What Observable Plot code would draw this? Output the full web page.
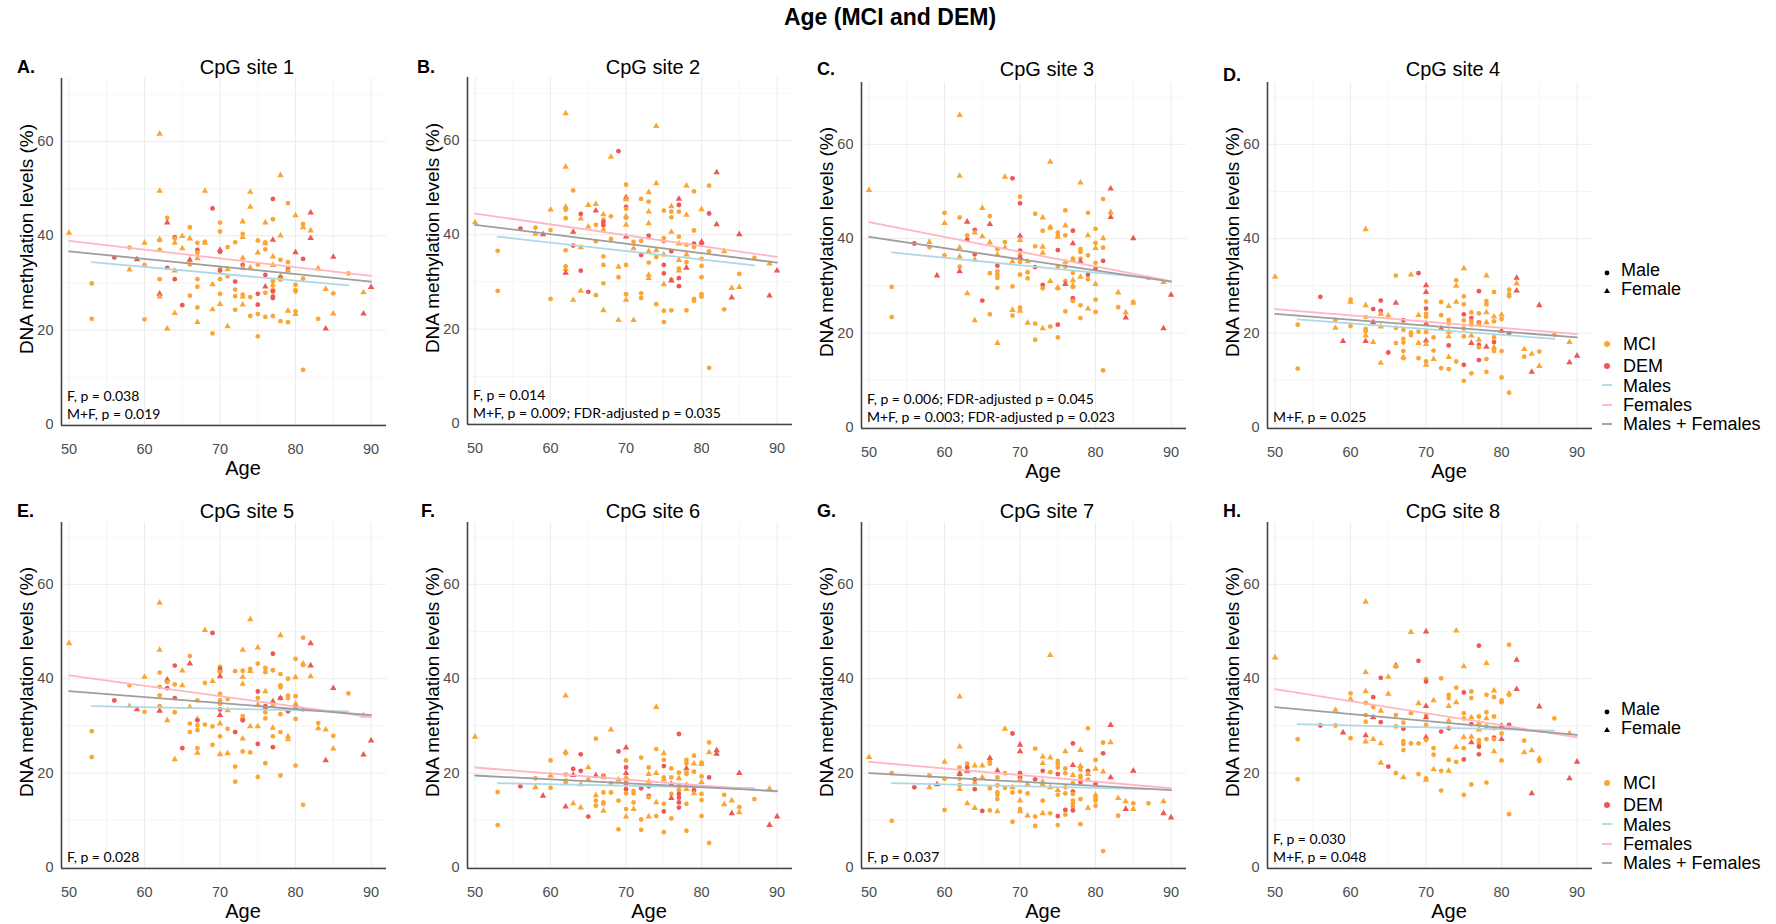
<!DOCTYPE html>
<html><head><meta charset="utf-8">
<script src="https://cdn.jsdelivr.net/npm/d3@7"></script>
<script src="https://cdn.jsdelivr.net/npm/@observablehq/plot@0.6"></script>
<style>
html,body{margin:0;padding:0;background:#fff;}
#root{position:relative;width:1776px;height:924px;overflow:hidden;font-family:"Liberation Sans",Arial,Helvetica,sans-serif;color:#000;background:#fff;}
.t{position:absolute;white-space:nowrap;line-height:1;}
</style></head><body><div id="root"></div>
<script>
// ---------- DATA ----------
// point tuples: [age, methylation %, code]; code = sex (M/F) + group (M = MCI, D = DEM)
const site1 = [[50,40.6,"FM"],[53,29.9,"MM"],[53,22.4,"MM"],[56,35.4,"MD"],[58,37.5,"MM"],[58,32.8,"FM"],[59,35.0,"FD"],[60,38.5,"FM"],[60,33.8,"MM"],[60,22.3,"MM"],
[62,61.6,"FM"],[62,49.5,"FM"],[62,39.2,"FM"],[62,39.1,"MM"],[62,37.0,"MM"],[62,30.8,"MM"],[62,27.7,"FD"],[62,27.1,"FM"],
[63,43.8,"MM"],[63,42.8,"FD"],[63,33.2,"MD"],[63,20.3,"FM"],[64,39.7,"MD"],[64,39.4,"MM"],[64,38.5,"FM"],[64,32.6,"FM"],[64,30.8,"MD"],[64,23.6,"FM"],
[65,39.9,"FM"],[65,37.3,"FM"],[65,25.3,"MD"],[66,41.8,"MM"],[66,39.4,"FM"],[66,34.9,"FD"],[66,33.9,"MM"],[66,27.3,"MM"],
[67,38.5,"MM"],[67,37.0,"MD"],[67,36.4,"MM"],[67,35.2,"FM"],[67,30.8,"MM"],[67,29.2,"MM"],[67,24.8,"MM"],[67,21.7,"FM"],
[68,49.5,"FM"],[68,38.7,"MM"],[68,38.5,"FM"],[69,45.8,"MD"],[69,29.7,"FM"],[69,24.4,"FM"],[69,19.3,"MM"],
[70,42.8,"MM"],[70,40.9,"MM"],[70,37.0,"FD"],[70,36.6,"MD"],[70,33.0,"MM"],[70,32.6,"MD"],[70,30.8,"MM"],[70,27.7,"MM"],[70,25.5,"FM"],
[71,37.6,"MM"],[71,32.9,"FM"],[71,31.4,"MM"],[71,20.8,"FM"],[72,38.6,"MM"],[72,30.3,"MD"],[72,28.6,"MM"],[72,27.2,"MM"],[72,24.3,"MM"],
[73,43.0,"FM"],[73,40.4,"MM"],[73,39.7,"FM"],[73,35.3,"FM"],[73,33.8,"MD"],[73,33.2,"FM"],[73,27.5,"MM"],[73,27.1,"FM"],[73,25.4,"FM"],
[74,49.3,"FM"],[74,46.1,"FM"],[74,33.2,"FM"],[74,27.0,"MM"],[74,23.0,"MM"],
[75,39.0,"MM"],[75,36.4,"FM"],[75,33.9,"MM"],[75,27.7,"MD"],[75,25.4,"MD"],[75,23.4,"MM"],[75,18.7,"MM"],
[76,42.8,"FM"],[76,38.6,"MM"],[76,38.4,"FM"],[76,37.1,"MM"],[76,31.7,"MD"],[76,29.2,"FD"],[76,27.9,"MM"],[76,22.8,"MM"],
[77,47.8,"MD"],[77,43.5,"MM"],[77,39.1,"FD"],[77,35.6,"FM"],[77,33.8,"FM"],[77,30.4,"MM"],[77,29.6,"FM"],[77,28.7,"FM"],[77,28.2,"MD"],[77,27.1,"MD"],[77,26.8,"MD"],[77,23.0,"MM"],
[78,52.8,"FM"],[78,40.0,"FM"],[78,34.9,"MM"],[78,31.5,"FM"],[78,31.1,"MD"],[78,30.7,"MM"],[78,21.9,"MM"],
[79,46.9,"MM"],[79,34.4,"MM"],[79,33.0,"MD"],[79,32.6,"FM"],[79,24.1,"FM"],[79,21.7,"MM"],
[80,44.3,"FM"],[80,36.5,"FD"],[80,29.6,"MM"],[80,28.5,"MM"],[80,28.2,"MM"],[80,24.0,"MM"],[80,23.4,"FM"],
[81,42.5,"MM"],[81,41.8,"FM"],[81,35.1,"MD"],[81,30.9,"MM"],[81,11.6,"MM"],[82,44.9,"FD"],[82,41.1,"FM"],[82,39.5,"FD"],
[83,33.1,"FM"],[83,22.4,"MM"],[84,28.7,"FM"],[84,20.3,"FD"],[85,35.5,"FD"],[85,27.8,"MM"],[85,23.5,"FM"],[87,32.0,"MM"],[89,28.0,"FM"],[89,23.5,"FD"],[90,29.1,"FD"]];

const site2 = [[50,42.6,"FM"],[53,36.6,"MM"],[53,28.1,"MM"],[56,41.3,"MD"],[58,41.5,"MM"],[58,40.2,"FM"],[59,40.1,"FD"],[60,45.3,"FM"],[60,41.0,"MM"],[60,26.4,"MM"],
[62,65.7,"FM"],[62,54.4,"FM"],[62,45.9,"FM"],[62,45.3,"MM"],[62,43.5,"MM"],[62,36.7,"MM"],[62,33.3,"MM"],[62,32.7,"FM"],[62,31.9,"FD"],
[63,49.4,"MM"],[63,40.6,"FD"],[63,37.7,"MD"],[63,26.2,"FM"],[64,44.4,"MD"],[64,43.4,"FM"],[64,37.3,"FM"],[64,32.4,"MD"],[64,28.1,"FM"],
[65,46.3,"FM"],[65,41.7,"FM"],[65,27.9,"MD"],[66,46.5,"FM"],[66,45.1,"FD"],[66,42.1,"MM"],[66,38.6,"MM"],[66,27.2,"MM"],
[67,44.3,"FM"],[67,43.2,"MM"],[67,42.7,"MD"],[67,42.0,"MD"],[67,41.0,"MM"],[67,35.4,"MM"],[67,33.6,"MM"],[67,29.7,"MM"],[67,24.0,"FM"],
[68,56.5,"FM"],[68,43.9,"MM"],[68,39.1,"MM"],[69,57.7,"MD"],[69,33.2,"FM"],[69,31.0,"MM"],[69,21.9,"FM"],
[70,50.6,"MM"],[70,47.9,"FD"],[70,47.5,"FM"],[70,45.9,"MD"],[70,45.5,"MM"],[70,43.9,"FM"],[70,43.6,"MM"],[70,42.1,"FM"],[70,39.6,"FD"],[70,33.6,"MM"],[70,27.4,"MM"],[70,26.2,"FM"],
[71,38.5,"MM"],[71,37.1,"FM"],[71,21.9,"FM"],[72,47.6,"MM"],[72,38.7,"MM"],[72,35.7,"MD"],[72,27.6,"MM"],[72,26.6,"MM"],
[73,49.0,"FM"],[73,47.0,"MM"],[73,44.9,"FM"],[73,42.4,"FM"],[73,39.8,"MD"],[73,36.5,"FM"],[73,34.1,"MM"],[73,31.5,"FM"],[73,30.8,"FM"],
[74,63.0,"FM"],[74,50.9,"FM"],[74,36.7,"FM"],[74,35.3,"MM"],[74,25.3,"MM"],
[75,45.1,"MM"],[75,39.3,"MM"],[75,38.6,"MM"],[75,35.8,"FM"],[75,33.6,"MD"],[75,31.8,"MD"],[75,29.5,"FM"],[75,23.9,"MM"],[75,21.5,"MM"],
[76,46.0,"FM"],[76,44.9,"MM"],[76,43.7,"MM"],[76,40.6,"FM"],[76,36.5,"MD"],[76,30.5,"MM"],[76,30.3,"FD"],[76,24.0,"MM"],
[77,47.6,"FD"],[77,46.3,"MD"],[77,44.9,"MM"],[77,39.6,"MM"],[77,38.1,"FM"],[77,34.6,"FM"],[77,32.8,"MM"],[77,32.4,"FM"],[77,30.8,"MD"],[77,29.1,"MD"],
[78,50.4,"FM"],[78,44.2,"FM"],[78,37.9,"MM"],[78,35.8,"FM"],[78,34.2,"MM"],[78,33.0,"FD"],[78,24.0,"MM"],
[79,49.2,"MM"],[79,40.9,"MM"],[79,38.1,"MD"],[79,37.4,"MM"],[79,26.4,"MM"],[79,26.0,"MM"],
[80,45.4,"FM"],[80,38.5,"FD"],[80,38.2,"MD"],[80,34.9,"MM"],[80,33.4,"MM"],[80,31.0,"MM"],[80,27.4,"MM"],[80,26.9,"MM"],
[81,50.4,"MM"],[81,44.5,"MD"],[81,36.5,"MM"],[81,11.8,"MM"],[82,53.2,"FD"],[82,42.2,"FD"],[83,36.5,"FM"],[83,24.2,"MM"],
[84,28.7,"FM"],[84,26.7,"FD"],[85,40.1,"FD"],[85,31.7,"MM"],[85,28.9,"FM"],[87,35.1,"MM"],[89,33.9,"FM"],[89,27.1,"FD"],[90,32.4,"FD"]];

const site3 = [[50,50.3,"FM"],[53,29.8,"MM"],[53,23.4,"MM"],[56,39.0,"MD"],[58,39.3,"FM"],[58,38.2,"MM"],[59,32.2,"FD"],[60,45.5,"MM"],[60,43.3,"FM"],[60,36.5,"MM"],
[62,66.2,"FM"],[62,53.3,"FM"],[62,44.5,"MM"],[62,38.1,"FM"],[62,36.2,"FM"],[62,34.1,"MM"],[62,33.1,"FD"],
[63,43.6,"FD"],[63,40.7,"MM"],[63,39.8,"MD"],[63,28.4,"FM"],[64,41.9,"MD"],[64,41.3,"FM"],[64,36.7,"MD"],[64,35.6,"FM"],[64,22.7,"FM"],
[65,46.5,"FM"],[65,40.5,"FM"],[65,26.9,"MD"],[66,44.8,"MM"],[66,43.1,"FD"],[66,39.2,"FM"],[66,32.7,"MM"],[66,24.0,"MM"],
[67,37.8,"MM"],[67,36.6,"FM"],[67,34.3,"MD"],[67,33.1,"MM"],[67,32.4,"MM"],[67,31.7,"MM"],[67,29.6,"MM"],[67,17.9,"FM"],
[68,53.1,"FM"],[68,39.3,"MM"],[68,38.1,"FM"],[69,52.8,"MD"],[69,35.2,"FM"],[69,29.9,"MM"],[69,24.9,"FM"],[69,23.7,"MM"],
[70,48.9,"MM"],[70,47.5,"MD"],[70,40.6,"FD"],[70,39.7,"FM"],[70,37.5,"MD"],[70,36.5,"MM"],[70,36.1,"FD"],[70,35.1,"MM"],[70,32.4,"MM"],[70,25.4,"MM"],[70,24.7,"FM"],
[71,35.2,"FM"],[71,32.9,"MM"],[71,31.6,"MM"],[71,22.2,"FM"],[72,45.3,"MM"],[72,38.4,"MM"],[72,34.0,"MD"],[72,22.0,"MM"],[72,18.6,"MM"],
[73,44.5,"FM"],[73,41.7,"MM"],[73,38.3,"FM"],[73,37.0,"FM"],[73,30.2,"MD"],[73,29.5,"MM"],[73,21.0,"FM"],
[74,56.3,"FM"],[74,42.5,"FM"],[74,42.3,"MM"],[74,31.0,"FM"],[74,21.4,"MM"],
[75,41.3,"MM"],[75,40.7,"MM"],[75,40.4,"FM"],[75,37.6,"MD"],[75,34.1,"MM"],[75,29.7,"FM"],[75,29.5,"MM"],[75,21.8,"MD"],[75,19.1,"MM"],
[76,46.0,"MM"],[76,42.8,"FM"],[76,40.7,"MM"],[76,35.1,"FM"],[76,34.1,"MM"],[76,31.0,"MM"],[76,30.4,"FD"],[76,24.6,"MM"],
[77,41.7,"MD"],[77,39.0,"FD"],[77,35.8,"MM"],[77,35.5,"FM"],[77,32.8,"MM"],[77,31.2,"FM"],[77,30.1,"FM"],[77,29.8,"MM"],[77,27.4,"MD"],[77,27.1,"MD"],[77,26.8,"MM"],
[78,51.9,"FM"],[78,37.8,"MM"],[78,37.2,"MM"],[78,35.8,"MM"],[78,35.2,"FD"],[78,31.9,"FM"],[78,25.9,"MM"],[78,23.2,"MM"],
[79,45.5,"MM"],[79,40.7,"FM"],[79,36.5,"MM"],[79,32.4,"MD"],[79,31.4,"MM"],[79,25.2,"FM"],
[80,42.1,"MM"],[80,39.1,"MM"],[80,38.0,"FM"],[80,34.9,"MM"],[80,33.6,"MD"],[80,30.4,"FM"],[80,27.1,"MM"],[80,24.5,"MM"],
[81,48.4,"MM"],[81,40.1,"FM"],[81,38.1,"MM"],[81,35.3,"MD"],[81,12.1,"MM"],[82,50.6,"FD"],[82,45.6,"FM"],[82,44.6,"FD"],
[83,28.6,"FM"],[83,25.5,"MM"],[84,24.4,"FM"],[84,23.3,"FD"],[85,40.1,"FD"],[85,26.6,"MM"],[85,26.4,"FM"],[87,31.7,"MM"],[89,30.8,"FM"],[89,21.0,"FD"],[90,28.1,"FD"]];

const site4 = [[50,31.9,"FM"],[53,21.8,"MM"],[53,12.5,"MM"],[56,27.7,"MD"],[58,22.8,"MM"],[58,21.1,"FM"],[59,18.3,"FD"],[60,27.1,"MM"],[60,26.6,"FM"],[60,21.5,"MM"],
[62,42.0,"FM"],[62,25.9,"FM"],[62,23.4,"MM"],[62,20.9,"MM"],[62,20.4,"MM"],[62,19.5,"FM"],[62,18.3,"FD"],
[63,25.1,"MD"],[63,22.3,"FD"],[63,18.1,"FM"],[64,26.9,"MD"],[64,24.7,"MD"],[64,24.1,"FM"],[64,21.4,"FM"],[64,13.7,"FM"],
[65,23.7,"FM"],[65,15.9,"MD"],[66,32.2,"MM"],[66,26.4,"FD"],[66,21.1,"MM"],[66,17.9,"MM"],
[67,22.7,"MD"],[67,20.7,"MM"],[67,18.8,"MM"],[67,18.0,"MM"],[67,16.2,"MM"],[67,14.9,"FM"],[67,14.7,"MM"],
[68,32.4,"FM"],[68,20.1,"MM"],[68,19.6,"MM"],[69,32.7,"MD"],[69,23.8,"FM"],[69,20.3,"MM"],[69,17.9,"FM"],[69,14.7,"MM"],
[70,30.1,"FD"],[70,28.7,"FD"],[70,26.7,"MM"],[70,25.2,"MD"],[70,24.1,"MM"],[70,23.5,"MM"],[70,22.0,"FD"],[70,20.2,"MM"],[70,18.4,"FD"],[70,17.7,"FM"],[70,14.0,"MM"],[70,13.3,"FM"],
[71,19.1,"MM"],[71,16.3,"MM"],[71,14.5,"FM"],[72,26.6,"MM"],[72,23.8,"MM"],[72,21.0,"FD"],[72,12.6,"MM"],
[73,25.7,"FM"],[73,22.8,"MM"],[73,22.1,"MM"],[73,20.3,"FM"],[73,19.3,"FM"],[73,17.4,"MD"],[73,14.9,"FM"],[73,12.4,"MM"],
[74,31.2,"MM"],[74,30.0,"FM"],[74,26.6,"FM"],[74,14.0,"MM"],
[75,33.7,"FM"],[75,27.8,"MM"],[75,26.1,"MM"],[75,24.0,"MD"],[75,22.7,"MM"],[75,21.0,"MM"],[75,19.3,"MM"],[75,13.3,"MD"],[75,9.9,"MM"],
[76,24.4,"MM"],[76,23.2,"MD"],[76,22.5,"MM"],[76,21.8,"MM"],[76,19.5,"FM"],[76,17.9,"FD"],[76,11.5,"MM"],
[77,28.9,"MD"],[77,24.2,"MM"],[77,22.3,"MD"],[77,22.0,"FM"],[77,18.6,"FM"],[77,17.5,"MD"],[77,17.0,"MM"],[77,14.3,"MD"],
[78,32.2,"FM"],[78,26.8,"MM"],[78,26.1,"MM"],[78,24.4,"FM"],[78,22.3,"FM"],[78,17.1,"FD"],[78,14.5,"MM"],[78,11.8,"MM"],
[79,28.7,"MM"],[79,23.5,"FM"],[79,22.5,"MM"],[79,19.1,"MM"],[79,18.1,"MD"],[79,17.0,"FM"],[79,16.2,"MM"],
[80,23.9,"FM"],[80,23.0,"MM"],[80,20.5,"FD"],[80,16.2,"MM"],[80,10.6,"MM"],
[81,29.2,"MM"],[81,28.2,"MM"],[81,27.8,"MM"],[81,20.0,"MD"],[81,7.4,"MM"],[82,31.7,"FD"],[82,30.5,"FM"],[82,29.0,"FD"],
[83,16.6,"FM"],[83,15.0,"MM"],[84,15.6,"FM"],[84,11.8,"FD"],[85,25.9,"FD"],[85,16.1,"MM"],[85,13.0,"FM"],[87,19.7,"MM"],[89,18.1,"FM"],[89,13.8,"FD"],[90,15.2,"FD"]];

const site5 = [[50,47.5,"FM"],[53,28.9,"MM"],[53,23.4,"MM"],[56,35.4,"MD"],[58,38.6,"MM"],[58,34.2,"FM"],[59,33.5,"FD"],[60,40.4,"FM"],[60,33.0,"MM"],
[62,56.1,"FM"],[62,46.1,"FM"],[62,41.3,"MM"],[62,38.3,"MM"],[62,36.5,"MM"],[62,34.2,"MM"],[62,33.2,"FD"],
[63,39.8,"FD"],[63,39.3,"MM"],[63,38.0,"MD"],[63,31.2,"FM"],[64,42.8,"MD"],[64,38.8,"MM"],[64,35.9,"MD"],[64,32.9,"MM"],[64,22.9,"FM"],
[65,41.7,"FM"],[65,38.6,"FM"],[65,25.3,"MD"],[66,44.8,"MM"],[66,43.2,"FD"],[66,34.0,"FM"],[66,30.5,"MM"],[66,28.7,"MM"],
[67,35.4,"MM"],[67,31.5,"FM"],[67,31.2,"MD"],[67,30.1,"MM"],[67,29.1,"MM"],[67,25.3,"MM"],[67,24.3,"FM"],
[68,50.3,"FM"],[68,39.1,"MM"],[68,30.3,"MM"],[69,49.7,"MD"],[69,39.5,"FM"],[69,29.9,"MM"],[69,26.0,"MM"],
[70,42.5,"MM"],[70,42.1,"MD"],[70,41.6,"MD"],[70,41.4,"MM"],[70,40.5,"FD"],[70,36.8,"MM"],[70,35.4,"MM"],[70,34.7,"MM"],[70,33.5,"MD"],[70,32.3,"FD"],[70,30.5,"FM"],[70,27.8,"MM"],[70,24.0,"FM"],
[71,35.7,"MM"],[71,33.3,"FM"],[71,29.4,"MM"],[71,24.2,"FM"],[72,41.6,"MM"],[72,28.7,"MD"],[72,21.4,"MM"],[72,18.2,"MM"],
[73,46.1,"FM"],[73,41.7,"MM"],[73,40.4,"FM"],[73,38.9,"FM"],[73,32.1,"MM"],[73,31.7,"FM"],[73,31.2,"MD"],[73,27.3,"FM"],[73,24.6,"MM"],
[74,52.6,"FM"],[74,42.1,"MM"],[74,41.6,"FM"],[74,29.9,"FM"],[74,24.4,"MM"],
[75,46.6,"FM"],[75,43.2,"MM"],[75,37.3,"MD"],[75,35.9,"MM"],[75,34.5,"FM"],[75,29.9,"FM"],[75,26.2,"MD"],[75,19.2,"MM"],
[76,42.3,"MM"],[76,41.4,"MM"],[76,37.3,"FM"],[76,34.2,"MD"],[76,33.8,"FD"],[76,32.9,"MM"],[76,31.6,"MM"],[76,22.1,"MM"],
[77,45.3,"MD"],[77,41.8,"MM"],[77,35.2,"FD"],[77,34.4,"FM"],[77,29.6,"FM"],[77,27.8,"MM"],[77,25.5,"MD"],
[78,49.2,"FM"],[78,41.0,"MM"],[78,38.6,"MM"],[78,38.2,"MM"],[78,35.9,"MD"],[78,35.9,"FD"],[78,32.5,"MM"],[78,28.7,"MM"],[78,19.5,"MM"],
[79,40.0,"MM"],[79,36.4,"MM"],[79,35.9,"MM"],[79,33.1,"MD"],[79,27.8,"FM"],[79,27.2,"FM"],
[80,44.2,"MM"],[80,40.3,"FM"],[80,36.3,"MM"],[80,34.7,"FM"],[80,34.0,"MD"],[80,31.5,"MM"],[80,21.6,"MM"],
[81,48.7,"MM"],[81,43.2,"FM"],[81,42.9,"MM"],[81,33.5,"MM"],[81,13.3,"MM"],[82,47.5,"FD"],[82,42.8,"FD"],[82,40.5,"FM"],
[83,30.6,"MM"],[83,29.5,"FM"],[84,29.2,"FM"],[84,22.7,"FD"],[85,38.0,"FD"],[85,27.9,"MM"],[85,25.2,"FM"],[87,36.9,"MM"],[89,32.2,"FM"],[89,23.9,"FD"],[90,26.9,"FD"]];

const site6 = [[50,27.7,"FM"],[53,16.0,"MM"],[53,9.0,"MM"],[56,17.2,"MD"],[58,18.9,"MM"],[58,17.0,"FM"],[59,15.2,"FD"],[60,22.7,"MM"],[60,19.5,"FM"],[60,16.9,"MM"],
[62,36.4,"FM"],[62,24.5,"FM"],[62,24.2,"MM"],[62,19.7,"MM"],[62,18.4,"MM"],[62,17.9,"MM"],[62,12.9,"FD"],
[63,20.9,"MD"],[63,19.6,"FD"],[63,13.6,"FM"],[64,24.0,"MD"],[64,20.5,"MD"],[64,17.6,"FM"],[64,12.7,"FM"],
[65,21.2,"FM"],[65,18.7,"FM"],[65,10.8,"MD"],[66,27.3,"MM"],[66,19.5,"FD"],[66,15.3,"FM"],[66,14.2,"MM"],[66,13.1,"MM"],
[67,19.4,"MD"],[67,19.1,"FM"],[67,15.9,"MM"],[67,13.8,"MM"],[67,13.5,"MM"],[67,12.0,"FM"],
[68,29.2,"FM"],[68,17.9,"MM"],[68,15.9,"MM"],[69,24.6,"MD"],[69,18.6,"FM"],[69,14.2,"MM"],[69,8.1,"MM"],
[70,25.4,"FD"],[70,22.7,"MM"],[70,21.2,"MD"],[70,20.0,"FD"],[70,19.1,"FM"],[70,18.4,"MM"],[70,17.7,"MD"],[70,16.6,"MD"],[70,15.7,"MM"],[70,12.4,"MM"],[70,10.8,"FM"],
[71,16.2,"MM"],[71,15.7,"MM"],[71,13.8,"MM"],[71,12.4,"FM"],[72,23.3,"MM"],[72,16.8,"MD"],[72,10.2,"MM"],[72,8.0,"MM"],
[73,21.2,"MM"],[73,19.8,"FM"],[73,18.2,"FM"],[73,17.2,"MD"],[73,15.2,"MD"],[73,14.9,"MM"],[73,10.8,"FM"],
[74,34.0,"FM"],[74,25.1,"MM"],[74,20.0,"FM"],[74,13.8,"FM"],[74,10.9,"MM"],
[75,24.2,"FM"],[75,22.8,"MM"],[75,21.5,"MD"],[75,19.1,"MM"],[75,18.7,"FM"],[75,13.5,"MM"],[75,11.9,"MD"],[75,7.5,"MM"],
[76,21.0,"MM"],[76,19.1,"MM"],[76,17.7,"FD"],[76,15.6,"MM"],[76,14.7,"FD"],[76,10.4,"MM"],
[77,28.3,"MD"],[77,20.1,"MM"],[77,18.9,"FM"],[77,17.2,"MD"],[77,16.4,"MM"],[77,15.6,"MD"],[77,14.8,"MD"],[77,13.8,"MD"],[77,12.7,"MD"],
[78,22.8,"MM"],[78,22.1,"MM"],[78,21.0,"FD"],[78,20.1,"MM"],[78,19.8,"MM"],[78,17.5,"FM"],[78,16.6,"FM"],[78,13.5,"MM"],[78,7.8,"MM"],
[79,23.7,"MM"],[79,22.0,"FM"],[79,20.3,"MM"],[79,17.2,"MM"],[79,16.4,"MD"],[79,15.7,"FM"],
[80,22.2,"MM"],[80,21.9,"FM"],[80,19.3,"MM"],[80,18.1,"FM"],[80,15.6,"MM"],[80,14.3,"MM"],[80,10.9,"MM"],
[81,26.5,"MM"],[81,24.4,"FM"],[81,19.1,"MD"],[81,5.2,"MM"],[82,24.8,"FD"],[82,24.1,"FD"],
[83,15.4,"MM"],[83,13.4,"FM"],[84,14.2,"FM"],[84,11.5,"FD"],[85,20.0,"FD"],[85,12.8,"MM"],[85,11.7,"FM"],[87,14.5,"MM"],[89,16.7,"FM"],[89,9.0,"FD"],[90,10.8,"FD"]];

const site7 = [[50,23.4,"FM"],[53,20.0,"MM"],[53,9.9,"MM"],[56,17.0,"MD"],[58,19.5,"MM"],[58,17.0,"FM"],[59,17.6,"FD"],[60,22.4,"FM"],[60,18.8,"MM"],[60,12.2,"MM"],
[62,36.2,"FM"],[62,25.6,"FM"],[62,21.2,"MM"],[62,20.0,"MM"],[62,19.8,"FD"],[62,18.8,"MM"],[62,17.5,"MM"],[62,16.6,"FM"],
[63,22.0,"MM"],[63,21.2,"MD"],[63,20.5,"FD"],[63,13.6,"FM"],[64,21.6,"FM"],[64,18.7,"MD"],[64,17.9,"MM"],[64,16.6,"MD"],[64,12.6,"FM"],
[65,21.6,"FM"],[65,19.1,"FM"],[65,12.0,"MD"],[66,23.2,"FD"],[66,22.4,"MM"],[66,22.0,"MM"],[66,16.8,"MM"],[66,12.1,"MM"],
[67,20.5,"FD"],[67,19.1,"MM"],[67,17.4,"MM"],[67,15.9,"MM"],[67,15.4,"MM"],[67,14.5,"MM"],[67,11.9,"FM"],
[68,29.4,"FM"],[68,20.0,"MM"],[68,16.9,"MM"],[69,28.4,"MD"],[69,17.0,"FM"],[69,15.9,"MM"],[69,9.7,"MM"],
[70,26.0,"FD"],[70,24.6,"FD"],[70,20.0,"MD"],[70,19.1,"MD"],[70,18.6,"FM"],[70,16.1,"MM"],[70,14.2,"FM"],[70,12.4,"MM"],[70,11.9,"FM"],
[71,17.7,"FM"],[71,15.7,"MM"],[71,11.0,"FM"],[72,25.2,"MM"],[72,18.7,"MD"],[72,10.8,"MM"],[72,8.8,"MM"],
[73,23.5,"FM"],[73,22.1,"FM"],[73,20.5,"MD"],[73,18.2,"FM"],[73,17.7,"FM"],[73,14.2,"MM"],[73,11.5,"FM"],
[74,45.0,"FM"],[74,23.3,"FM"],[74,20.2,"MM"],[74,17.0,"FM"],[74,11.5,"MM"],
[75,22.6,"MM"],[75,22.0,"MM"],[75,21.2,"MM"],[75,19.8,"MD"],[75,16.4,"FM"],[75,15.4,"MM"],[75,10.9,"MD"],[75,9.0,"MM"],
[76,24.6,"FM"],[76,21.0,"MM"],[76,20.0,"MM"],[76,17.0,"MM"],[76,15.7,"MM"],[76,12.2,"MD"],[76,11.2,"MM"],
[77,26.3,"MD"],[77,21.7,"FD"],[77,19.6,"FM"],[77,17.9,"MM"],[77,16.1,"MD"],[77,15.6,"MM"],[77,14.2,"MM"],[77,13.5,"MM"],[77,12.9,"MM"],[77,12.1,"MD"],
[78,24.9,"FM"],[78,21.5,"FM"],[78,20.7,"MM"],[78,19.4,"MM"],[78,19.1,"MM"],[78,18.1,"MD"],[78,14.5,"MM"],[78,9.2,"MM"],
[79,29.5,"MM"],[79,20.5,"MD"],[79,19.8,"FM"],[79,18.6,"MM"],[79,12.6,"FM"],
[80,22.8,"MM"],[80,20.9,"FM"],[80,17.7,"MD"],[80,15.4,"FM"],[80,14.7,"MM"],[80,14.2,"MM"],[80,13.1,"MM"],
[81,26.5,"MM"],[81,24.2,"MD"],[81,20.3,"FM"],[81,3.5,"MM"],[82,30.2,"FD"],[82,26.5,"FM"],[82,19.1,"FD"],
[83,14.7,"FM"],[83,11.0,"MM"],[84,14.0,"FM"],[84,12.4,"FD"],[85,20.5,"FD"],[85,13.6,"MM"],[85,12.4,"FM"],[87,13.6,"MM"],[89,14.0,"FM"],[89,11.5,"FD"],[90,10.6,"FD"]];

const site8 = [[50,44.5,"FM"],[53,27.2,"MM"],[53,18.7,"MM"],[56,30.1,"MD"],[58,33.4,"FM"],[58,30.1,"MM"],[59,28.6,"FD"],[60,36.9,"MM"],[60,35.7,"FM"],[60,27.4,"MM"],
[62,56.3,"FM"],[62,41.4,"FM"],[62,37.3,"FM"],[62,34.9,"MM"],[62,32.3,"MM"],[62,30.9,"MM"],[62,28.0,"FD"],[62,26.7,"FM"],
[63,36.1,"MD"],[63,34.0,"MM"],[63,31.8,"FD"],[63,27.2,"FM"],[64,40.2,"MD"],[64,33.2,"FM"],[64,30.8,"MD"],[64,26.3,"FM"],[64,22.2,"FM"],
[65,40.4,"FM"],[65,36.8,"FM"],[65,21.4,"MD"],[66,42.8,"FD"],[66,42.6,"MM"],[66,32.3,"MM"],[66,29.9,"MM"],[66,20.0,"MM"],
[67,30.7,"MM"],[67,29.4,"MD"],[67,26.8,"MM"],[67,26.2,"MM"],[67,24.9,"MM"],[67,19.1,"FM"],
[68,49.9,"FM"],[68,32.7,"MM"],[68,26.3,"MM"],[69,43.8,"MD"],[69,34.8,"FM"],[69,26.3,"MM"],[69,19.8,"MM"],
[70,50.0,"FD"],[70,39.9,"MM"],[70,39.4,"MD"],[70,34.2,"FD"],[70,32.3,"MM"],[70,31.8,"FD"],[70,30.2,"MM"],[70,27.6,"FD"],[70,27.0,"MM"],[70,18.9,"MM"],[70,18.6,"FM"],
[71,35.4,"FM"],[71,25.3,"MM"],[71,23.9,"MM"],[71,20.8,"FM"],[72,40.1,"MM"],[72,28.8,"MD"],[72,20.5,"MM"],[72,16.3,"MM"],
[73,36.6,"MM"],[73,35.9,"MM"],[73,34.2,"FM"],[73,31.1,"FM"],[73,29.5,"MD"],[73,22.8,"MM"],[73,20.5,"FM"],
[74,50.2,"FM"],[74,38.1,"MM"],[74,35.0,"FM"],[74,25.5,"FM"],[74,22.4,"MM"],
[75,42.6,"FM"],[75,37.1,"MD"],[75,32.7,"MM"],[75,31.6,"MM"],[75,27.6,"FM"],[75,25.3,"MM"],[75,22.9,"MD"],[75,15.4,"MM"],
[76,37.3,"MM"],[76,35.9,"MM"],[76,31.8,"FM"],[76,30.4,"MD"],[76,27.7,"FM"],[76,26.5,"FD"],[76,17.6,"MM"],
[77,47.0,"MD"],[77,32.0,"MM"],[77,30.6,"FM"],[77,29.2,"FM"],[77,27.0,"MM"],[77,26.3,"MM"],[77,25.6,"MD"],[77,24.0,"MD"],
[78,43.3,"FM"],[78,36.6,"MM"],[78,32.9,"MM"],[78,31.6,"FM"],[78,29.9,"MM"],[78,27.2,"MM"],[78,18.0,"MM"],
[79,37.5,"FM"],[79,36.1,"MM"],[79,32.0,"MM"],[79,29.5,"MM"],[79,27.5,"MD"],[79,27.2,"MM"],[79,24.6,"FM"],
[80,35.4,"MM"],[80,35.0,"MM"],[80,30.0,"FD"],[80,28.4,"MM"],[80,27.2,"FD"],[80,22.7,"MM"],
[81,47.2,"MM"],[81,36.9,"FM"],[81,36.6,"MM"],[81,30.2,"MD"],[81,11.3,"MM"],[82,44.0,"FD"],[82,37.8,"FD"],
[83,26.9,"MM"],[83,24.4,"FM"],[84,24.8,"FM"],[84,15.7,"FD"],[85,34.1,"FD"],[85,23.1,"FM"],[85,22.6,"MM"],[87,31.6,"MM"],[89,28.4,"FM"],[89,18.9,"FD"],[90,22.4,"FD"]];

// fitted lines: values at the two ends of each line
const malesAges = [53, 87];
const fullAges = [50, 90];
const malesFit   = [[34.4,29.5],[39.6,33.5],[37.1,31.7],[22.9,18.8],[34.2,33.1],[17.9,16.8],[17.9,16.6],[30.4,29.0]];
const femalesFit = [[38.9,31.5],[44.5,35.3],[43.5,31.0],[25.1,19.8],[40.7,31.9],[21.2,16.1],[22.4,16.8],[37.8,27.6]];
const allFit     = [[36.7,30.3],[42.1,34.1],[40.4,30.9],[24.1,19.1],[37.4,32.3],[19.5,16.2],[20.0,16.4],[34.0,28.1]];

const siteTitles = ["CpG site 1","CpG site 2","CpG site 3","CpG site 4","CpG site 5","CpG site 6","CpG site 7","CpG site 8"];
const panelLetters = ["A.","B.","C.","D.","E.","F.","G.","H."];
const annotations = [
  ["F, p = 0.038","M+F, p = 0.019"],
  ["F, p = 0.014","M+F, p = 0.009; FDR-adjusted p = 0.035"],
  ["F, p = 0.006; FDR-adjusted p = 0.045","M+F, p = 0.003; FDR-adjusted p = 0.023"],
  ["M+F, p = 0.025"],
  ["F, p = 0.028"],
  [],
  ["F, p = 0.037"],
  ["F, p = 0.030","M+F, p = 0.048"]
];
const xTicks = [50,60,70,80,90];
const xMinor = [55,65,75,85];
const yTicks = [0,20,40,60];
const yMinor = [10,30,50,70];
const sexKeys = ["M","F"], sexLabels = ["Male","Female"];
const groupKeys = ["MCI","DEM"];
const lineLabels = ["Males","Females","Males + Females"];
const mainTitle = "Age (MCI and DEM)";
const xLabel = "Age";
const yLabel = "DNA methylation levels (%)";

// ---------- STYLE / LAYOUT ----------
const ORANGE = "#FBA634", RED = "#EF5656";
const C_MALE = "#ADD8E6", C_FEMALE = "#FFB6C1", C_ALL = "#9E9E9E";
const W = 325;
const frames = [
  {x:61,y:78,h:347},{x:467,y:77,h:347},{x:861,y:82,h:346},{x:1267,y:82,h:346},
  {x:61,y:522,h:346},{x:467,y:522,h:346},{x:861,y:522,h:346},{x:1267,y:522,h:346}
];
const titleY = [67,67,69,69,511,511,511,511];
const letterDx = [-44,-50,-44,-44,-44,-46,-44,-44];
const letterY = [67,67,69,75,511,511,511,511];

const root = document.getElementById("root");
function txt(s, x, y, o = {}) {
  const d = document.createElement("div");
  d.className = "t";
  d.textContent = s;
  d.style.left = x + "px";
  d.style.top = y + "px";
  d.style.fontSize = (o.size || 14) + "px";
  if (o.weight) d.style.fontWeight = o.weight;
  if (o.color) d.style.color = o.color;
  if (o.family) d.style.fontFamily = o.family;
  const tx = o.anchor === "middle" ? "-50%" : "0";
  d.style.transform = o.rotate ? `translate(-50%,-50%) rotate(${o.rotate}deg)` : `translate(${tx},-50%)`;
  root.appendChild(d);
  return d;
}

txt(mainTitle, 890, 17, {size: 23, weight: "bold", anchor: "middle"});

const sites = [site1, site2, site3, site4, site5, site6, site7, site8];
const ML = 60, MR = 12, MT = 8, MB = 50;
const xDom = [49.0, 49.0 + W / 7.55];

sites.forEach((pts, i) => {
  const f = frames[i];
  const yDom = [-0.2, -0.2 + f.h / 4.72];
  const data = pts.map(([age, value, code]) => ({age, value, sex: code[0], group: code[1] === "M" ? "MCI" : "DEM"}));
  const line = (ages, vals) => [[ages[0], vals[0]], [ages[1], vals[1]]];
  const svg = Plot.plot({
    width: W + ML + MR, height: f.h + MT + MB,
    marginLeft: ML, marginRight: MR, marginTop: MT, marginBottom: MB,
    x: {domain: xDom, axis: null},
    y: {domain: yDom, axis: null},
    symbol: {domain: sexKeys, range: ["circle", "triangle"]},
    color: {domain: groupKeys, range: [ORANGE, RED]},
    style: {fontFamily: '"Liberation Sans", Arial, sans-serif', background: "transparent", overflow: "visible"},
    marks: [
      Plot.gridX(xMinor, {stroke: "#f3f3f3", strokeOpacity: 1, strokeWidth: 0.8}),
      Plot.gridY(yMinor, {stroke: "#f3f3f3", strokeOpacity: 1, strokeWidth: 0.8}),
      Plot.gridX(xTicks, {stroke: "#ebebeb", strokeOpacity: 1, strokeWidth: 1}),
      Plot.gridY(yTicks, {stroke: "#ebebeb", strokeOpacity: 1, strokeWidth: 1}),
      Plot.axisX(xTicks, {tickSize: 0, tickPadding: 18, fontSize: 14.5, color: "#4d4d4d", label: null}),
      Plot.axisY(yTicks, {tickSize: 0, tickPadding: 8, fontSize: 14.5, color: "#4d4d4d", label: null}),
      Plot.ruleX([xDom[0]], {stroke: "#444", strokeWidth: 1.6}),
      Plot.ruleY([yDom[0]], {stroke: "#444", strokeWidth: 1.6}),
      Plot.dot(data, {x: "age", y: "value", symbol: "sex", fill: "group", stroke: "none", r: 2.4}),
      Plot.line(line(malesAges, malesFit[i]), {stroke: C_MALE, strokeWidth: 1.8}),
      Plot.line(line(fullAges, femalesFit[i]), {stroke: C_FEMALE, strokeWidth: 1.8}),
      Plot.line(line(fullAges, allFit[i]), {stroke: C_ALL, strokeWidth: 1.8})
    ]
  });
  svg.style.position = "absolute";
  svg.style.left = (f.x - ML) + "px";
  svg.style.top = (f.y - MT) + "px";
  root.appendChild(svg);

  const bottom = f.y + f.h;
  txt(panelLetters[i], f.x + letterDx[i], letterY[i], {size: 18, weight: "bold"});
  txt(siteTitles[i], f.x + 186, titleY[i], {size: 20, anchor: "middle"});
  if (i !== 1) txt(xLabel, f.x + 182, bottom + 43, {size: 20, anchor: "middle"});
  txt(yLabel, f.x - 35, f.y + f.h / 2 - 13, {size: 19, rotate: -90});
  const ann = annotations[i];
  ann.forEach((s, k) => {
    txt(s, f.x + 6, bottom - 11 - (ann.length - 1 - k) * 18.5, {size: 14, family: "Lato, 'Open Sans', sans-serif"});
  });
});

// ---------- LEGENDS (beside panels D and H) ----------
[0, 439].forEach(dy => {
  const ns = "http://www.w3.org/2000/svg";
  const s = document.createElementNS(ns, "svg");
  s.setAttribute("width", 30); s.setAttribute("height", 180);
  s.style.position = "absolute"; s.style.left = "1595px"; s.style.top = (260 + dy) + "px";
  const add = (tag, attrs) => { const e = document.createElementNS(ns, tag); for (const k in attrs) e.setAttribute(k, attrs[k]); s.appendChild(e); };
  add("circle", {cx: 12, cy: 13, r: 2.4, fill: "#000"});
  add("path", {d: "M12,28 L15,33 L9,33 Z", fill: "#000"});
  add("circle", {cx: 12, cy: 84, r: 3, fill: ORANGE});
  add("circle", {cx: 12, cy: 106, r: 3, fill: RED});
  [[C_MALE, 125], [C_FEMALE, 145], [C_ALL, 164]].forEach(([c, y]) => add("line", {x1: 7, x2: 17, y1: y, y2: y, stroke: c, "stroke-width": 1.8}));
  root.appendChild(s);
  txt(sexLabels[0], 1621, 270 + dy, {size: 18});
  txt(sexLabels[1], 1621, 289 + dy, {size: 18});
  txt(groupKeys[0], 1623, 344 + dy, {size: 18});
  txt(groupKeys[1], 1623, 366 + dy, {size: 18});
  txt(lineLabels[0], 1623, 386 + dy, {size: 18});
  txt(lineLabels[1], 1623, 405 + dy, {size: 18});
  txt(lineLabels[2], 1623, 424 + dy, {size: 18});
});
</script></body></html>
